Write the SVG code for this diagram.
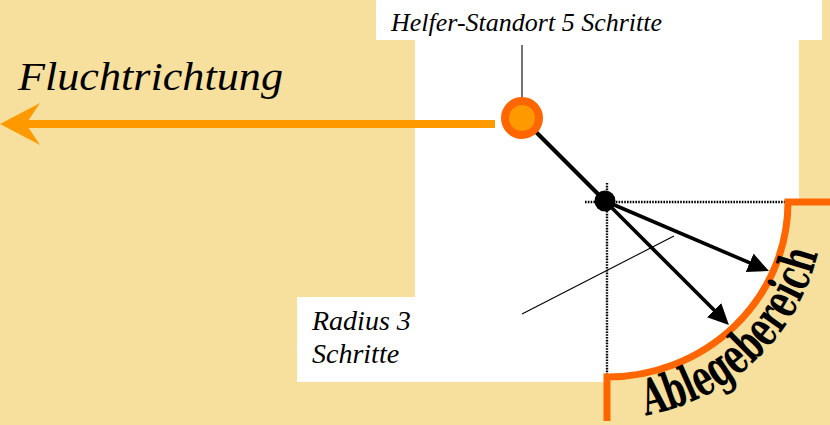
<svg xmlns="http://www.w3.org/2000/svg" xmlns:xlink="http://www.w3.org/1999/xlink" width="830" height="425" viewBox="0 0 830 425">
  <style>
    .lbl { font-family: "Liberation Serif", "Times New Roman", serif; font-style: italic; fill: #000; }
    .dotted { stroke: #000; stroke-width: 2.4; stroke-dasharray: 1.6 1.2; fill: none; }
    .thin { stroke: #000; stroke-width: 1.1; fill: none; }
    .arrow { stroke: #000; stroke-width: 3.6; fill: none; marker-end: url(#blackHead); }
    .zone { fill: none; stroke: #FF6600; stroke-width: 7; stroke-linejoin: miter; }
  </style>
  <defs>
    <marker id="blackHead" markerUnits="userSpaceOnUse" markerWidth="22" markerHeight="22" refX="13" refY="10" orient="auto">
      <path d="M0,0 L21,10 L0,20 Z" fill="#000"/>
    </marker>
    <marker id="orangeHead" markerUnits="userSpaceOnUse" markerWidth="42" markerHeight="44" refX="14" refY="21" orient="auto">
      <path d="M0,0 L40,21 L0,42 L14,21 Z" fill="#FF9900"/>
    </marker>
    <path id="textArc" d="M 637.2 416.9 A 217 217 0 0 0 823.2 221.0"/>
  </defs>

  <!-- background -->
  <rect x="0" y="0" width="830" height="425" fill="#F7E09E"/>
  <rect x="376" y="0" width="446" height="40" fill="#FFFFFF"/>
  <rect x="415" y="38" width="384" height="344" fill="#FFFFFF"/>
  <rect x="297" y="297" width="120" height="85" fill="#FFFFFF"/>
  <path d="M 607 377 A 181 175 0 0 0 788 202 H 830 V 425 H 607 Z" fill="#F7E09E"/>

  <g id="connectors">
    <line class="dotted" x1="585" y1="202" x2="788" y2="202"/>
    <line class="dotted" x1="607" y1="183" x2="607" y2="377"/>
    <line x1="495" y1="124" x2="26" y2="124" stroke="#FF9900" stroke-width="8" marker-end="url(#orangeHead)"/>
    <line x1="522" y1="45" x2="522" y2="97" class="thin"/>
    <line x1="522" y1="118" x2="605" y2="201" stroke="#000" stroke-width="4"/>
    <line class="arrow" x1="605" y1="201" x2="761.6" y2="267.9"/>
    <line class="arrow" x1="605" y1="201" x2="723.3" y2="319.3"/>
    <line x1="522" y1="314" x2="674" y2="236" class="thin"/>
  </g>

  <g id="ablegebereich">
    <path class="zone" d="M 607 421 V 377 A 181 175 0 0 0 788 202 H 832"/>
    <text font-family="'DejaVu Serif', 'Liberation Serif', serif" font-weight="bold" font-size="50" fill="#000">
      <textPath xlink:href="#textArc" href="#textArc" startOffset="9" textLength="250" lengthAdjust="spacingAndGlyphs">Ablegebereich</textPath>
    </text>
  </g>

  <g id="helfer">
    <circle cx="522" cy="118" r="17" fill="#FF9900" stroke="#FF6600" stroke-width="8"/>
  </g>

  <g id="drehpunkt">
    <circle cx="605" cy="201" r="10.5" fill="#000"/>
  </g>

  <g id="helfer-label">
    <text class="lbl" x="391" y="31" font-size="26">Helfer-Standort 5 Schritte</text>
  </g>

  <g id="flucht-label">
    <text class="lbl" x="18" y="90" font-size="41" textLength="265" lengthAdjust="spacingAndGlyphs">Fluchtrichtung</text>
  </g>

  <g id="radius-label">
    <text class="lbl" x="312" y="330" font-size="28">Radius 3</text>
    <text class="lbl" x="312" y="363" font-size="28">Schritte</text>
  </g>
</svg>
